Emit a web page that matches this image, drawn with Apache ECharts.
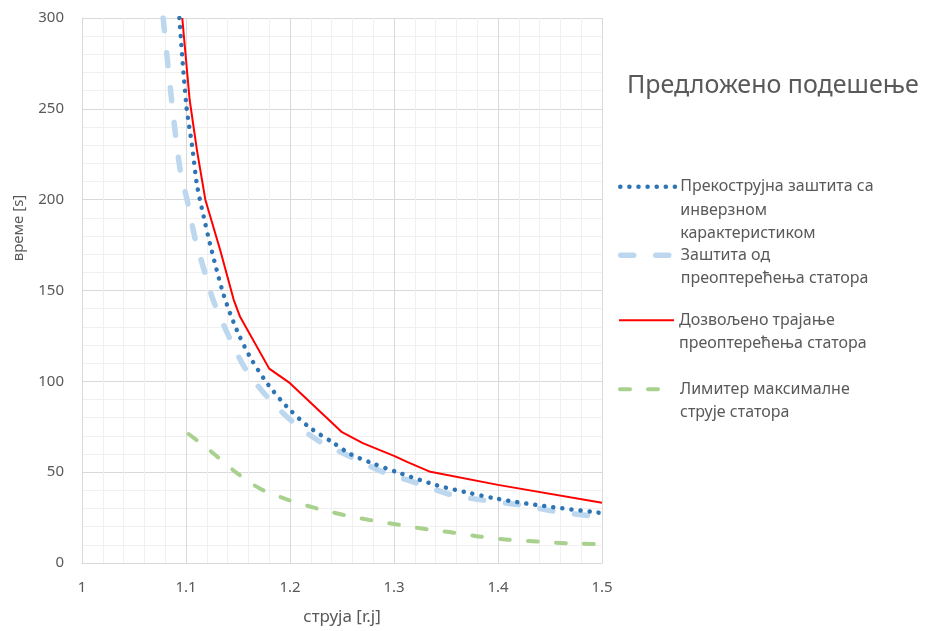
<!DOCTYPE html>
<html>
<head>
<meta charset="utf-8">
<script src="https://cdn.jsdelivr.net/npm/echarts@6/dist/echarts.min.js"></script>
<style>
  html,body{margin:0;padding:0;background:#fff;}
  #chart{width:925px;height:631px;}
</style>
</head>
<body>
<div id="chart"></div>
<script>
// struja [r.j] / vreme [s] pairs
var inverzna=[[1.0936,300],[1.1003,252],[1.1058,230],[1.1106,208],[1.1169,191],[1.1234,175],[1.136,148],[1.149,128],[1.162,113],[1.178,99],[1.197,86],[1.218,75],[1.242,66],[1.258,60],[1.277,55.4],[1.303,50],[1.34,43],[1.369,39],[1.397,35.6],[1.436,32],[1.5,27.5]];
var preopt=[[1.078,300],[1.0865,253],[1.0945,216],[1.101,200],[1.109,178],[1.1186,159],[1.1266,144],[1.141,125],[1.157,107],[1.178,91.5],[1.202,78],[1.229,66.7],[1.26,58],[1.29,50],[1.322,44],[1.356,37.4],[1.386,34.6],[1.421,32],[1.457,28.2],[1.5,25.3]];
var dozvoljeno=[[1.0964,300],[1.1035,255],[1.1106,227],[1.1186,200],[1.133,172],[1.1458,145],[1.152,135.5],[1.18,107],[1.20,99],[1.25,72],[1.27,66],[1.287,62],[1.30,59],[1.3125,55.7],[1.335,50.2],[1.40,43],[1.5,33.2]];
var limiter=[[1.1025,71],[1.114,66],[1.127,60],[1.149,49.5],[1.171,41],[1.197,35],[1.226,30],[1.252,26.4],[1.277,23.6],[1.305,21],[1.332,18.5],[1.357,16.7],[1.383,14.5],[1.41,12.8],[1.4375,11.8],[1.466,10.9],[1.5,10.4]];

var names=['Прекострујна заштита са\nинверзном\nкарактеристиком','Заштита од\nпреоптерећења статора','Дозвољено трајање\nпреоптерећења статора','Лимитер максималне\nструје статора'];
var legendTops=[123,215,280,349];

var font='"Noto Sans", sans-serif';
var gray='#595959';
var lh=23.5;

// one legend per entry; blank lines before the text keep the icon on the first line
function legendFor(i){
  var lines=names[i].split('\n').length;
  var pre=new Array(lines).join('\n');
  return {
    orient:'vertical',
    left:613,
    top:legendTops[i],
    itemWidth:55,
    itemHeight:10,
    selectedMode:false,
    itemStyle:{opacity:0},
    lineStyle:{width:'inherit'},
    formatter:function(n){return pre+n;},
    textStyle:{fontFamily:font,fontSize:16,color:gray,lineHeight:lh},
    data:[names[i]]
  };
}

var option={
  animation:false,
  backgroundColor:'#fff',
  title:{
    text:'Предложено подешење',
    left:622,
    top:68,
    textStyle:{fontFamily:font,fontSize:25,fontWeight:'normal',color:gray}
  },
  legend:[legendFor(0),legendFor(1),legendFor(2),legendFor(3)],
  grid:{left:82,right:323,top:18,bottom:68,outerBoundsMode:'none'},
  graphic:[{
    type:'text',
    x:19,
    y:228,
    rotation:Math.PI/2,
    style:{text:'време [s]',fontFamily:font,fontSize:15,fill:gray,align:'center',verticalAlign:'middle'}
  }],
  xAxis:{
    type:'value',
    min:1,
    max:1.5,
    interval:0.1,
    name:'струја [r.j]',
    nameLocation:'middle',
    nameGap:46,
    nameTextStyle:{fontFamily:font,fontSize:17,color:gray},
    axisLine:{show:true,lineStyle:{color:'#d9d9d9'}},
    axisTick:{show:false},
    axisLabel:{fontFamily:font,fontSize:15,color:gray,margin:17},
    splitLine:{show:true,lineStyle:{color:'#d9d9d9'}},
    minorTick:{show:false,splitNumber:5},
    minorSplitLine:{show:true,lineStyle:{color:'#f0f0f0'}}
  },
  yAxis:{
    type:'value',
    min:0,
    max:300,
    interval:50,
    axisLine:{show:true,lineStyle:{color:'#d9d9d9'}},
    axisTick:{show:false},
    axisLabel:{fontFamily:font,fontSize:15,color:gray,margin:18},
    splitLine:{show:true,lineStyle:{color:'#d9d9d9'}},
    minorTick:{show:false,splitNumber:5},
    minorSplitLine:{show:true,lineStyle:{color:'#f0f0f0'}}
  },
  series:[
    {
      name:names[1],
      type:'line',
      data:preopt,
      symbol:'none',
      smooth:0.3,
      lineStyle:{color:'#bdd7ee',width:5.5,type:[13,22],cap:'round'},
      itemStyle:{color:'#bdd7ee'}
    },
    {
      name:names[0],
      type:'line',
      data:inverzna,
      symbol:'none',
      smooth:0.3,
      lineStyle:{color:'#2e75b6',width:4.5,type:[0.1,9],cap:'round'},
      itemStyle:{color:'#2e75b6'}
    },
    {
      name:names[2],
      type:'line',
      data:dozvoljeno,
      symbol:'none',
      lineStyle:{color:'#ff0000',width:2},
      itemStyle:{color:'#ff0000'}
    },
    {
      name:names[3],
      type:'line',
      data:limiter,
      symbol:'none',
      smooth:0.3,
      lineStyle:{color:'#a9d18e',width:4,type:[10,18],cap:'round'},
      itemStyle:{color:'#a9d18e'}
    }
  ]
};

var chart=echarts.init(document.getElementById('chart'));
chart.setOption(option);
</script>
</body>
</html>
